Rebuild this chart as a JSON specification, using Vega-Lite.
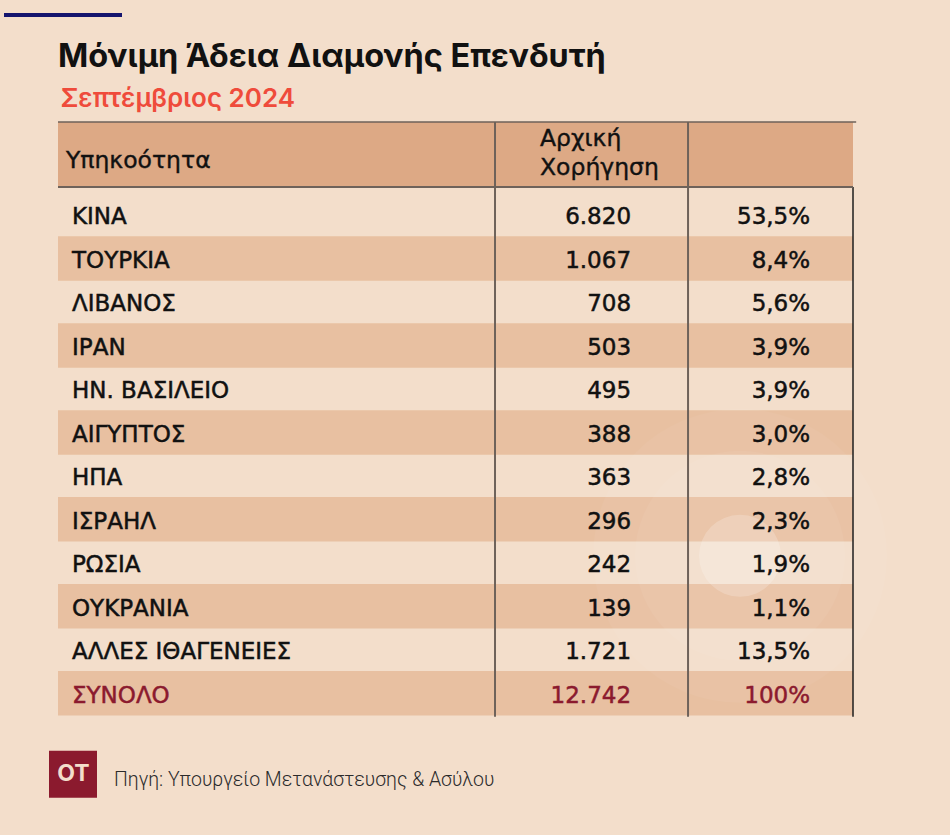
{
  "$schema": "https://vega.github.io/schema/vega-lite/v6.json",
  "width": 795,
  "height": 680,
  "autosize": {"type": "none"},
  "padding": {"left": 58, "top": 122, "right": 97, "bottom": 33},
  "background": "#F3DECB",
  "config": {
    "view": {"stroke": null},
    "locale": {"number": {"decimal": ",", "thousands": ".", "grouping": [3], "currency": ["", " €"]}}
  },
  "data": {
    "values": [
      {"country": "ΚΙΝΑ", "count": 6820, "pct": 0.535},
      {"country": "ΤΟΥΡΚΙΑ", "count": 1067, "pct": 0.084},
      {"country": "ΛΙΒΑΝΟΣ", "count": 708, "pct": 0.056},
      {"country": "ΙΡΑΝ", "count": 503, "pct": 0.039},
      {"country": "ΗΝ. ΒΑΣΙΛΕΙΟ", "count": 495, "pct": 0.039},
      {"country": "ΑΙΓΥΠΤΟΣ", "count": 388, "pct": 0.030},
      {"country": "ΗΠΑ", "count": 363, "pct": 0.028},
      {"country": "ΙΣΡΑΗΛ", "count": 296, "pct": 0.023},
      {"country": "ΡΩΣΙΑ", "count": 242, "pct": 0.019},
      {"country": "ΟΥΚΡΑΝΙΑ", "count": 139, "pct": 0.011},
      {"country": "ΑΛΛΕΣ ΙΘΑΓΕΝΕΙΕΣ", "count": 1721, "pct": 0.135},
      {"country": "ΣΥΝΟΛΟ", "count": 12742, "pct": 1.0}
    ]
  },
  "transform": [{"window": [{"op": "row_number", "as": "rank"}]}],
  "layer": [
    {
      "data": {"values": [{}]},
      "mark": {"type": "rect", "fill": "#DDA985"},
      "encoding": {
        "x": {"datum": 0, "type": "quantitative", "scale": {"domain": [0, 100], "nice": false, "zero": false}, "axis": null},
        "x2": {"datum": 100},
        "y": {"datum": -1.138, "type": "quantitative", "scale": {"domain": [-1.138, 14.5], "reverse": true, "nice": false, "zero": false}, "axis": null},
        "y2": {"datum": 0.356}
      }
    },
    {
      "transform": [{"filter": "datum.rank % 2 == 0"}],
      "mark": {"type": "tick", "orient": "horizontal", "thickness": 44.5, "opacity": 1},
      "encoding": {
        "y": {"field": "rank", "type": "quantitative"},
        "size": {"value": 795},
        "color": {"value": "#E8C0A1"}
      }
    },
    {
      "data": {"values": [{}]},
      "mark": {"type": "point", "shape": "circle", "filled": true, "fill": "#FFFFFF", "opacity": 0.045, "strokeWidth": 0},
      "encoding": {
        "x": {"datum": 85.79, "type": "quantitative"},
        "y": {"datum": 8.839, "type": "quantitative"},
        "size": {"value": 86436}
      }
    },
    {
      "data": {"values": [{}]},
      "mark": {"type": "point", "shape": "circle", "filled": true, "fill": "#FFFFFF", "opacity": 0.05, "strokeWidth": 0},
      "encoding": {
        "x": {"datum": 85.79, "type": "quantitative"},
        "y": {"datum": 8.839, "type": "quantitative"},
        "size": {"value": 44100}
      }
    },
    {
      "data": {"values": [{}]},
      "mark": {"type": "point", "shape": "circle", "filled": true, "fill": "#FFFFFF", "opacity": 0.2, "strokeWidth": 0},
      "encoding": {
        "x": {"datum": 85.79, "type": "quantitative"},
        "y": {"datum": 8.839, "type": "quantitative"},
        "size": {"value": 6724}
      }
    },
    {
      "data": {"values": [{}]},
      "mark": {"type": "rule", "stroke": "#6E625A", "strokeWidth": 2},
      "encoding": {
        "x": {"datum": 54.97, "type": "quantitative"},
        "y": {"datum": -1.138, "type": "quantitative"},
        "y2": {"datum": 12.54}
      }
    },
    {
      "data": {"values": [{}]},
      "mark": {"type": "rule", "stroke": "#6E625A", "strokeWidth": 2},
      "encoding": {
        "x": {"datum": 79.25, "type": "quantitative"},
        "y": {"datum": -1.138, "type": "quantitative"},
        "y2": {"datum": 12.54}
      }
    },
    {
      "data": {"values": [{}]},
      "mark": {"type": "rule", "stroke": "#1E1E1E", "strokeWidth": 1.5},
      "encoding": {
        "x": {"datum": 100, "type": "quantitative"},
        "y": {"datum": 0.356, "type": "quantitative"},
        "y2": {"datum": 12.54}
      }
    },
    {
      "data": {"values": [{}]},
      "mark": {"type": "rule", "stroke": "#6E625A", "strokeWidth": 1.5},
      "encoding": {
        "x": {"datum": 0, "type": "quantitative"},
        "x2": {"datum": 100.4},
        "y": {"datum": -1.138, "type": "quantitative"}
      }
    },
    {
      "data": {"values": [{}]},
      "mark": {"type": "rule", "stroke": "#6E625A", "strokeWidth": 2},
      "encoding": {
        "x": {"datum": 0, "type": "quantitative"},
        "x2": {"datum": 100},
        "y": {"datum": 0.356, "type": "quantitative"}
      }
    },
    {
      "data": {"values": [{}]},
      "mark": {"type": "text", "align": "left", "baseline": "alphabetic", "font": "Inter", "fontSize": 32.5, "fontWeight": 700, "fill": "#111111"},
      "encoding": {
        "x": {"datum": 0, "type": "quantitative"},
        "y": {"datum": -2.402, "type": "quantitative"},
        "text": {"value": "Μόνιμη Άδεια Διαμονής Επενδυτή"}
      }
    },
    {
      "data": {"values": [{}]},
      "mark": {"type": "text", "align": "left", "baseline": "alphabetic", "font": "Inter", "fontSize": 26, "fontWeight": 600, "fill": "#EF4B3B"},
      "encoding": {
        "x": {"datum": 0.3, "type": "quantitative"},
        "y": {"datum": -1.483, "type": "quantitative"},
        "text": {"value": "Σεπτέμβριος 2024"}
      }
    },
    {
      "data": {"values": [{}]},
      "mark": {"type": "text", "align": "left", "baseline": "alphabetic", "font": "DejaVu Sans", "fontSize": 23.5, "fill": "#111111", "stroke": "#111111", "strokeWidth": 0.4},
      "encoding": {
        "x": {"datum": 1.0, "type": "quantitative"},
        "y": {"datum": -0.074, "type": "quantitative"},
        "text": {"value": "Υπηκοότητα"}
      }
    },
    {
      "data": {"values": [{}]},
      "mark": {"type": "text", "align": "left", "baseline": "alphabetic", "font": "DejaVu Sans", "fontSize": 23.5, "fill": "#111111", "stroke": "#111111", "strokeWidth": 0.4, "lineHeight": 29},
      "encoding": {
        "x": {"datum": 60.63, "type": "quantitative"},
        "y": {"datum": -0.586, "type": "quantitative"},
        "text": {"value": ["Αρχική", "Χορήγηση"]}
      }
    },
    {
      "mark": {"type": "text", "align": "left", "baseline": "alphabetic", "dy": 9.5, "font": "DejaVu Sans", "fontSize": 23, "strokeWidth": 0.5},
      "encoding": {
        "x": {"datum": 1.76, "type": "quantitative"},
        "y": {"field": "rank", "type": "quantitative"},
        "text": {"field": "country", "type": "nominal"},
        "color": {"condition": {"test": "datum.country === 'ΣΥΝΟΛΟ'", "value": "#8B1A2E"}, "value": "#111111"},
        "stroke": {"condition": {"test": "datum.country === 'ΣΥΝΟΛΟ'", "value": "#8B1A2E"}, "value": "#111111"}
      }
    },
    {
      "mark": {"type": "text", "align": "right", "baseline": "alphabetic", "dy": 9.5, "font": "DejaVu Sans", "fontSize": 23, "strokeWidth": 0.5},
      "encoding": {
        "x": {"datum": 72.08, "type": "quantitative"},
        "y": {"field": "rank", "type": "quantitative"},
        "text": {"field": "count", "type": "quantitative", "format": ",d"},
        "color": {"condition": {"test": "datum.country === 'ΣΥΝΟΛΟ'", "value": "#8B1A2E"}, "value": "#111111"},
        "stroke": {"condition": {"test": "datum.country === 'ΣΥΝΟΛΟ'", "value": "#8B1A2E"}, "value": "#111111"}
      }
    },
    {
      "transform": [{"filter": "datum.country !== 'ΣΥΝΟΛΟ'"}],
      "mark": {"type": "text", "align": "right", "baseline": "alphabetic", "dy": 9.5, "font": "DejaVu Sans", "fontSize": 23, "fill": "#111111", "stroke": "#111111", "strokeWidth": 0.5},
      "encoding": {
        "x": {"datum": 94.6, "type": "quantitative"},
        "y": {"field": "rank", "type": "quantitative"},
        "text": {"field": "pct", "type": "quantitative", "format": ".1%"}
      }
    },
    {
      "transform": [{"filter": "datum.country === 'ΣΥΝΟΛΟ'"}],
      "mark": {"type": "text", "align": "right", "baseline": "alphabetic", "dy": 9.5, "font": "DejaVu Sans", "fontSize": 23, "fill": "#8B1A2E", "stroke": "#8B1A2E", "strokeWidth": 0.5},
      "encoding": {
        "x": {"datum": 94.6, "type": "quantitative"},
        "y": {"field": "rank", "type": "quantitative"},
        "text": {"field": "pct", "type": "quantitative", "format": ".0%"}
      }
    },
    {
      "data": {"values": [{}]},
      "mark": {"type": "rect", "fill": "#8B1A2E"},
      "encoding": {
        "x": {"datum": -1.132, "type": "quantitative"},
        "x2": {"datum": 4.906},
        "y": {"datum": 13.322, "type": "quantitative"},
        "y2": {"datum": 14.402}
      }
    },
    {
      "data": {"values": [{}]},
      "mark": {"type": "text", "align": "center", "baseline": "alphabetic", "font": "Inter", "fontSize": 23, "fontWeight": 700, "fill": "#F3DECB"},
      "encoding": {
        "x": {"datum": 1.95, "type": "quantitative"},
        "y": {"datum": 14.028, "type": "quantitative"},
        "text": {"value": "OT"}
      }
    },
    {
      "data": {"values": [{}]},
      "mark": {"type": "text", "align": "left", "baseline": "alphabetic", "font": "Roboto", "fontSize": 19.5, "fontWeight": 300, "fill": "#2B2B2B"},
      "encoding": {
        "x": {"datum": 7.044, "type": "quantitative"},
        "y": {"datum": 14.126, "type": "quantitative"},
        "text": {"value": "Πηγή: Υπουργείο Μετανάστευσης & Ασύλου"}
      }
    },
    {
      "data": {"values": [{}]},
      "mark": {"type": "rule", "stroke": "#14146E", "strokeWidth": 4},
      "encoding": {
        "x": {"datum": -6.79, "type": "quantitative"},
        "x2": {"datum": 8.05},
        "y": {"datum": -3.598, "type": "quantitative"}
      }
    }
  ]
}
